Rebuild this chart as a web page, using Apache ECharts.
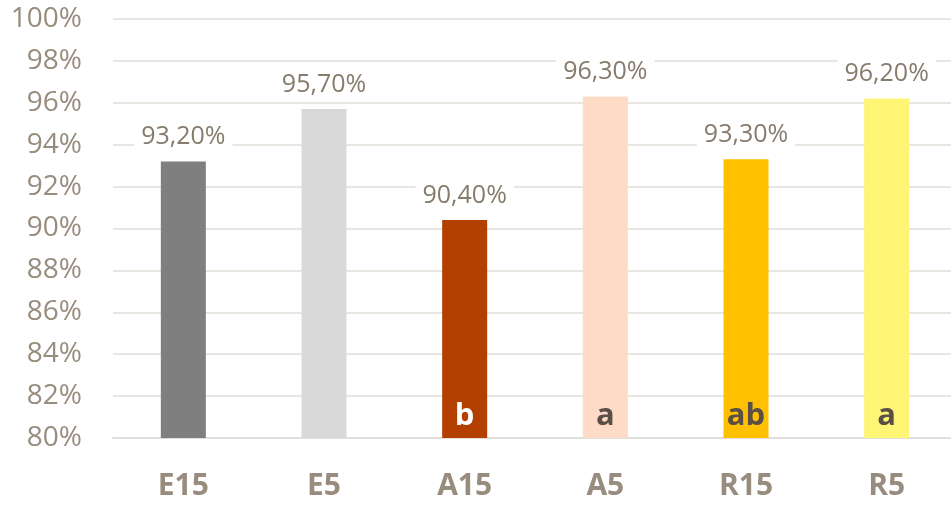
<!DOCTYPE html>
<html>
<head>
<meta charset="utf-8">
<script src="https://cdn.jsdelivr.net/npm/echarts@6/dist/echarts.min.js"></script>
<style>
  html, body { margin: 0; padding: 0; background: #ffffff; }
  #chart { width: 951px; height: 505px; }
</style>
</head>
<body>
<div id="chart"></div>
<script>
// Treatment groups and their percentage values
const categories = ['E15', 'E5', 'A15', 'A5', 'R15', 'R5'];
const values = [93.2, 95.7, 90.4, 96.3, 93.3, 96.2];
// Significance letters shown at the foot of each bar
const letters = ['', '', 'b', 'a', 'ab', 'a'];
const barColors = ['#7f7f7f', '#d9d9d9', '#b33f00', '#fddbc7', '#ffc000', '#fff574'];
const letterColors = ['#594f46', '#594f46', '#ffffff', '#594f46', '#594f46', '#594f46'];

const FONT = "'Open Sans', sans-serif";
const TEXT = '#978c7d';

const chart = echarts.init(document.getElementById('chart'), null, { renderer: 'canvas' });

chart.setOption({
  animation: false,
  backgroundColor: '#ffffff',
  // plot area runs slightly past the right edge of the canvas
  grid: { left: 113, width: 844, top: 19, bottom: 67, outerBoundsMode: 'none' },
  xAxis: {
    type: 'category',
    data: categories,
    axisTick: { show: false },
    axisLine: { lineStyle: { color: '#e2ded9', width: 2 } },
    axisLabel: {
      margin: 33,
      color: TEXT,
      fontFamily: FONT,
      fontWeight: 'bold',
      fontSize: 30
    }
  },
  yAxis: {
    type: 'value',
    min: 80,
    max: 100,
    interval: 2,
    axisLine: { show: false },
    axisTick: { show: false },
    splitLine: { lineStyle: { color: '#e9e6e2', width: 2 } },
    axisLabel: {
      margin: 31,
      color: TEXT,
      fontFamily: FONT,
      fontSize: 28,
      formatter: v => v + '%'
    }
  },
  series: [
    {
      type: 'bar',
      barWidth: 45,
      data: values.map((v, i) => ({ value: v, itemStyle: { color: barColors[i] } })),
      label: {
        show: true,
        position: 'top',
        distance: 10,
        color: '#867b6c',
        fontFamily: FONT,
        fontSize: 25,
        backgroundColor: '#ffffff',
        padding: [2, 7, 2, 7],
        formatter: p => p.value.toFixed(2).replace('.', ',') + '%'
      },
      z: 2
    },
    {
      type: 'bar',
      barWidth: 45,
      barGap: '-100%',
      silent: true,
      data: values.map((v, i) => ({
        value: v,
        itemStyle: { color: 'rgba(0,0,0,0)' },
        label: { color: letterColors[i] }
      })),
      label: {
        show: true,
        position: 'insideBottom',
        distance: 6,
        fontFamily: FONT,
        fontWeight: 'bold',
        fontSize: 31,
        formatter: p => letters[p.dataIndex]
      },
      z: 3
    }
  ]
});
</script>
</body>
</html>
